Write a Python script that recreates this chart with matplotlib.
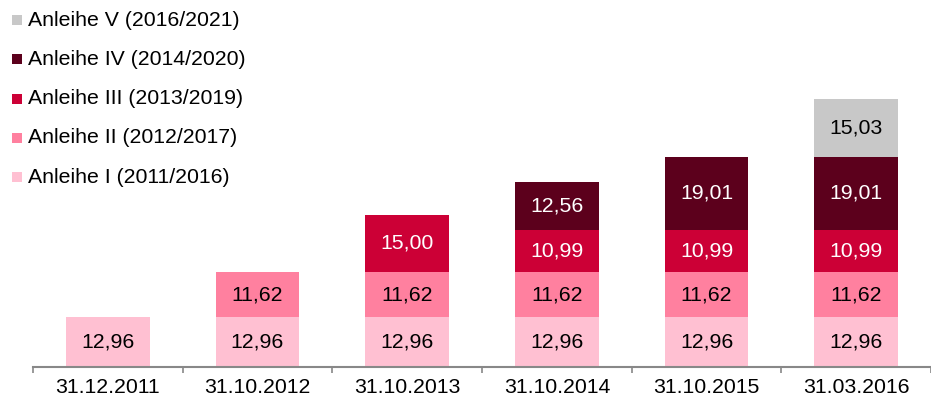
import numpy as np
import matplotlib.pyplot as plt
from matplotlib.patches import Rectangle

plt.rcParams['font.family'] = ['Liberation Sans', 'DejaVu Sans']

dates = ['31.12.2011', '31.10.2012', '31.10.2013', '31.10.2014', '31.10.2015', '31.03.2016']
anleihe_1 = [12.96, 12.96, 12.96, 12.96, 12.96, 12.96]
anleihe_2 = [0, 11.62, 11.62, 11.62, 11.62, 11.62]
anleihe_3 = [0, 0, 15.00, 10.99, 10.99, 10.99]
anleihe_4 = [0, 0, 0, 12.56, 19.01, 19.01]
anleihe_5 = [0, 0, 0, 0, 0, 15.03]

names = ['Anleihe I (2011/2016)', 'Anleihe II (2012/2017)', 'Anleihe III (2013/2019)',
         'Anleihe IV (2014/2020)', 'Anleihe V (2016/2021)']
series = [anleihe_1, anleihe_2, anleihe_3, anleihe_4, anleihe_5]
colors = ['#FFC0D2', '#FF809F', '#CC0036', '#5C001C', '#C8C8C8']
text_colors = ['black', 'black', 'white', 'white', 'black']

W, H = 931, 400
fig = plt.figure(figsize=(W / 100, H / 100), dpi=100)
ax = fig.add_axes([33 / W, 33 / H, (W - 33) / W, 367 / H])

x = np.arange(len(dates))
bottom = np.zeros(len(dates))
for vals, c, tc in zip(series, colors, text_colors):
    vals = np.array(vals)
    ax.bar(x, vals, 0.56, bottom=bottom, color=c, linewidth=0)
    for xi, b, v in zip(x, bottom, vals):
        if v > 0:
            ax.text(xi, b + v / 2, f'{v:.2f}'.replace('.', ','), ha='center', va='center',
                    fontsize=15.3, color=tc)
    bottom += vals

ax.set_xlim(-0.5, -0.5 + (W - 33) / 151.3)
ax.set_ylim(0, 367 / 3.85)
for s in ['top', 'right', 'left']:
    ax.spines[s].set_visible(False)
ax.spines['bottom'].set_color('#888888')
ax.spines['bottom'].set_linewidth(1.5)
ax.set_yticks([])
ax.set_xticks(x)
ax.set_xticklabels(dates, fontsize=15.3)
ax.tick_params(axis='x', which='major', length=0, pad=8)
ax.set_xticks(np.arange(-0.5, len(dates), 1.0), minor=True)
ax.tick_params(axis='x', which='minor', length=4.5, width=1.2, color='#888888')

# legend drawn by hand, newest bond on top
for i, (name, c) in enumerate(zip(names[::-1], colors[::-1])):
    yc = 20 + i * 39.3
    fig.add_artist(Rectangle((12 / W, 1 - (yc + 5) / H), 10 / W, 10 / H,
                             transform=fig.transFigure, color=c, linewidth=0))
    fig.text(28 / W, 1 - yc / H, name, fontsize=15.3, va='center', ha='left')

fig.savefig('out.png', dpi=100)
